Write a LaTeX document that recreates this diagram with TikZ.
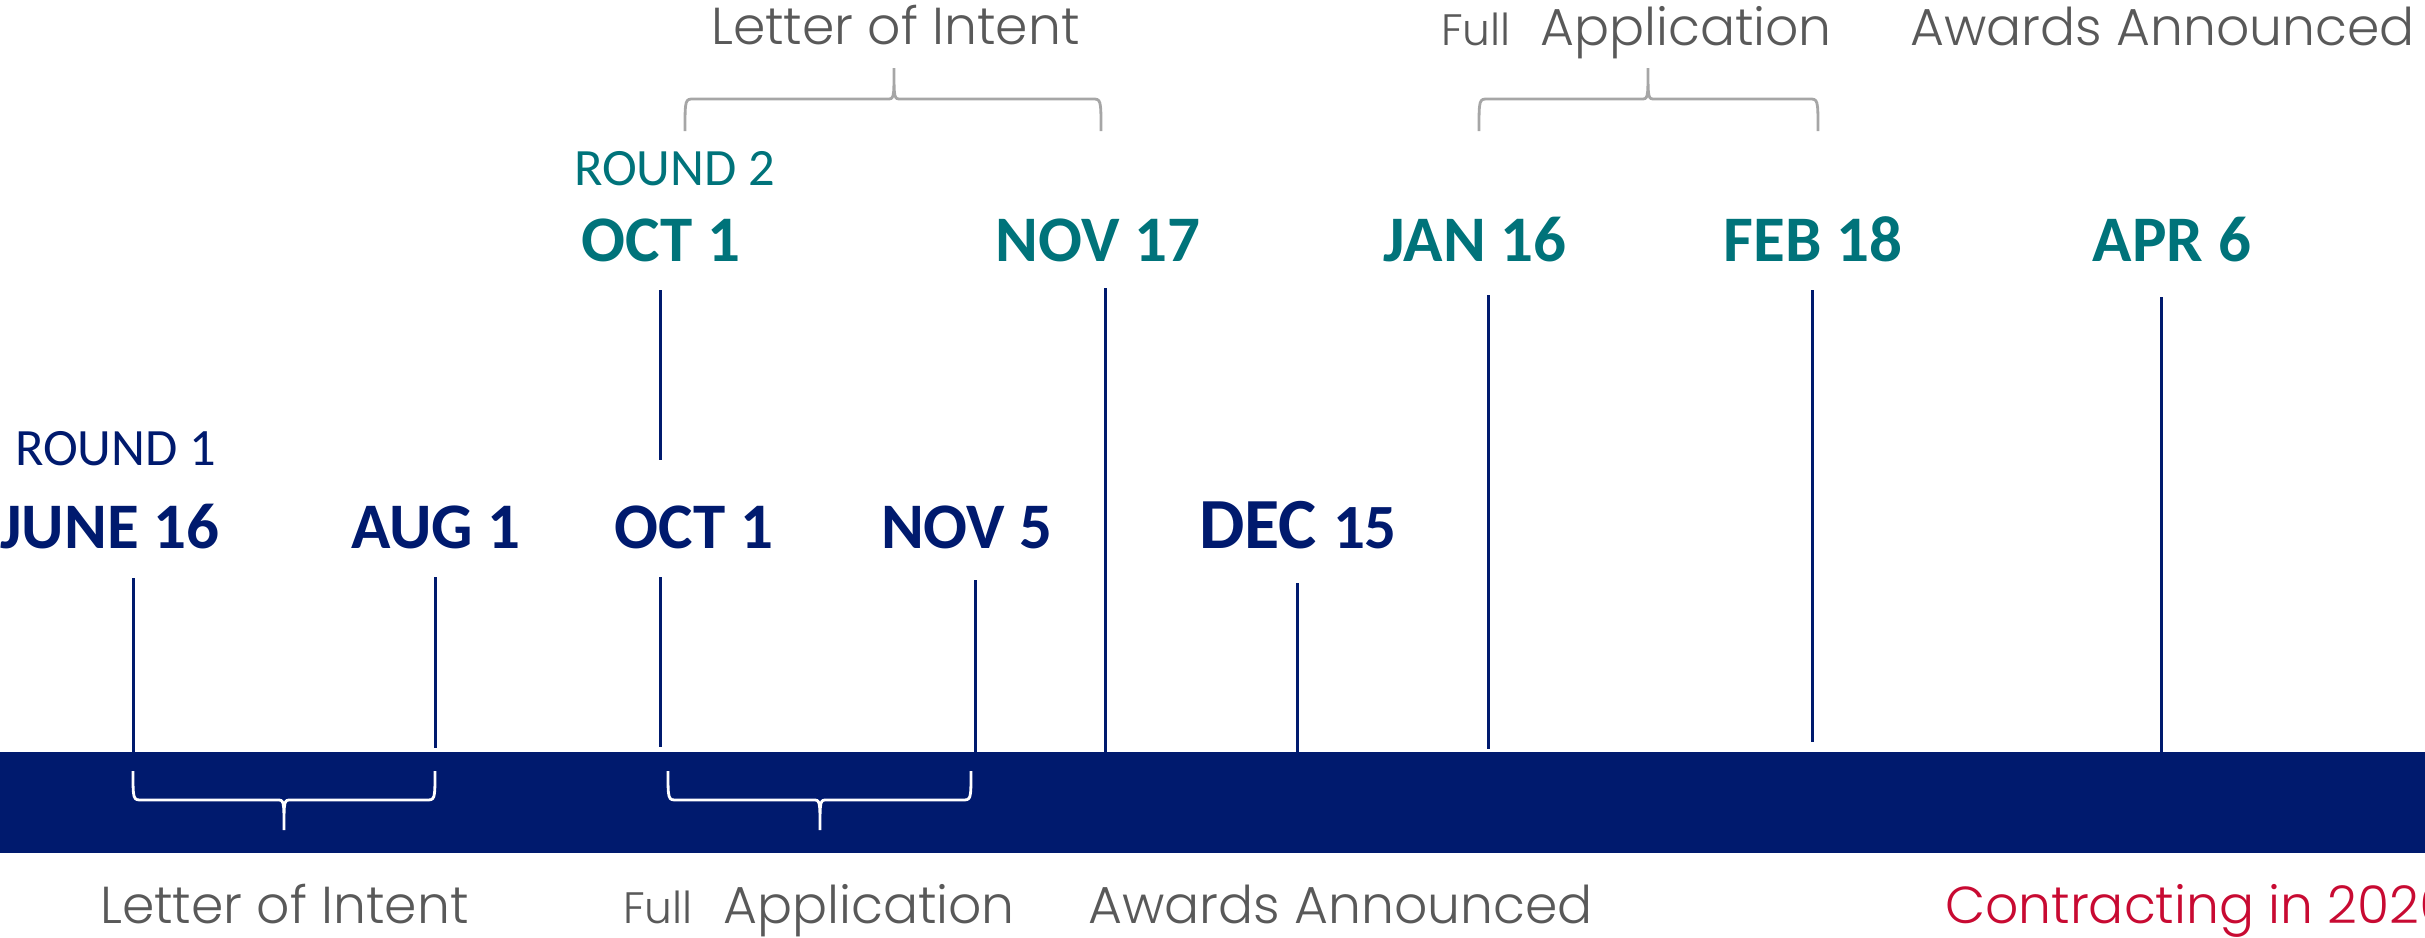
\documentclass[tikz,border=0pt]{standalone}
\usepackage{fontspec}
\setmainfont{Carlito}
\IfFontExistsTF{Poppins Light}{\newfontfamily\gothic{Poppins Light}}{\newfontfamily\gothic{Poppins}}
\definecolor{navy}{RGB}{0,26,110}
\definecolor{tealc}{RGB}{0,115,122}
\definecolor{graytxt}{RGB}{89,89,89}
\definecolor{graybr}{RGB}{166,166,166}
\definecolor{redc}{RGB}{200,10,50}
\newcommand\drawbrace[7]{%
  \draw[#1] (#2,#5) .. controls (#2,#6) and (#2,#6) .. ({#2+9},#6) -- ({#4-7},#6)
    .. controls (#4,#6) and (#4,#6) .. (#4,#7)
    .. controls (#4,#6) and (#4,#6) .. ({#4+7},#6) -- ({#3-9},#6)
    .. controls (#3,#6) and (#3,#6) .. (#3,#5);}
\tikzset{
  bar/.style={fill=navy, inner sep=0pt, minimum width=2425pt, minimum height=101pt},
  tick/.style={draw=navy, line width=3pt},
  dateA/.style={text=navy, font=\bfseries\fontsize{65}{70}\selectfont, anchor=base, inner sep=0pt},
  dateB/.style={text=tealc, font=\bfseries\fontsize{65}{70}\selectfont, anchor=base, inner sep=0pt},
  roundA/.style={text=navy, font=\fontsize{52.5}{56}\selectfont, anchor=base west, inner sep=0pt},
  roundB/.style={text=tealc, font=\fontsize{52.5}{56}\selectfont, anchor=base west, inner sep=0pt},
  phase/.style={text=graytxt, font=\gothic\fontsize{52}{56}\selectfont, anchor=base west, inner sep=0pt},
  phasesmall/.style={text=graytxt, font=\gothic\fontsize{44}{48}\selectfont, anchor=base west, inner sep=0pt},
  contract/.style={text=redc, font=\gothic\fontsize{52}{56}\selectfont, anchor=base west, inner sep=0pt},
  whitebrace/.style={draw=white, line width=2.8pt},
  graybrace/.style={draw=graybr, line width=2.8pt},
}
\begin{document}
\begin{tikzpicture}[x=1pt,y=-1pt]
\useasboundingbox (0,0) rectangle (2425,937);
\clip (0,0) rectangle (2425,937);
% bar
\node[bar] (bar) at (1212.5,802.5) {};
% round 1 labels
\node[roundA] (r1) at (15,465) {ROUND 1};
\node[dateA] (jun16) at (110,548) {JUNE 16};
\node[dateA] (aug1) at (436,548) {AUG 1};
\node[dateA] (oct1a) at (694,548) {OCT 1};
\node[dateA] (nov5) at (967,548) {NOV 5};
\node[text=navy, anchor=base, inner sep=0pt, font=\bfseries] (dec15) at (1298,548) {\fontsize{72}{76}\selectfont DEC \fontsize{63}{68}\selectfont 15};
% round 2 labels
\node[roundB] (r2) at (574,185) {ROUND 2};
\node[dateB] (oct1b) at (661,261) {OCT 1};
\node[dateB] (nov17) at (1098,261) {NOV 17};
\node[dateB] (jan16) at (1475,261) {JAN 16};
\node[dateB] (feb18) at (1813,261) {FEB 18};
\node[dateB] (apr6) at (2172,261) {APR 6};
% tick coordinates
\coordinate (tjun) at (133,578);  \coordinate (bjun) at (133,752);
\coordinate (taug) at (435,577);  \coordinate (baug) at (435,748);
\coordinate (toca) at (660,577);  \coordinate (boca) at (660,747);
\coordinate (tnov5) at (975,580); \coordinate (bnov5) at (975,752);
\coordinate (tocb) at (660,290);  \coordinate (bocb) at (660,460);
\coordinate (tnov17) at (1105,288); \coordinate (bnov17) at (1105,752);
\coordinate (tdec) at (1297,583); \coordinate (bdec) at (1297,752);
\coordinate (tjan) at (1488,295); \coordinate (bjan) at (1488,749);
\coordinate (tfeb) at (1812,290); \coordinate (bfeb) at (1812,742);
\coordinate (tapr) at (2161,297); \coordinate (bapr) at (2161,752);
\draw[tick] (tjun) -- (bjun);
\draw[tick] (taug) -- (baug);
\draw[tick] (toca) -- (boca);
\draw[tick] (tnov5) -- (bnov5);
\draw[tick] (tocb) -- (bocb);
\draw[tick] (tnov17) -- (bnov17);
\draw[tick] (tdec) -- (bdec);
\draw[tick] (tjan) -- (bjan);
\draw[tick] (tfeb) -- (bfeb);
\draw[tick] (tapr) -- (bapr);
% braces
\drawbrace{whitebrace}{133}{435}{284}{771}{800}{830}
\drawbrace{whitebrace}{668}{971}{820}{771}{800}{830}
\drawbrace{graybrace}{685}{1101}{894}{131}{99}{68}
\drawbrace{graybrace}{1479}{1818}{1648}{131}{99}{68}
% top phase labels
\node[phase] (loiT) at (711,44) {Letter of Intent};
\node[phasesmall] (fullT) at (1441,45) {Full};
\node[phase] (appT) at (1540,45) {Application};
\node[phase] (awT) at (1910,45) {Awards Announced};
% bottom phase labels
\node[phase] (loiB) at (100,923) {Letter of Intent};
\node[phasesmall] (fullB) at (623,923) {Full};
\node[phase] (appB) at (723,923) {Application};
\node[phase] (awB) at (1088,923) {Awards Announced};
\node[contract] (ctr) at (1945,923) {Contracting in 2026};
\end{tikzpicture}
\end{document}
